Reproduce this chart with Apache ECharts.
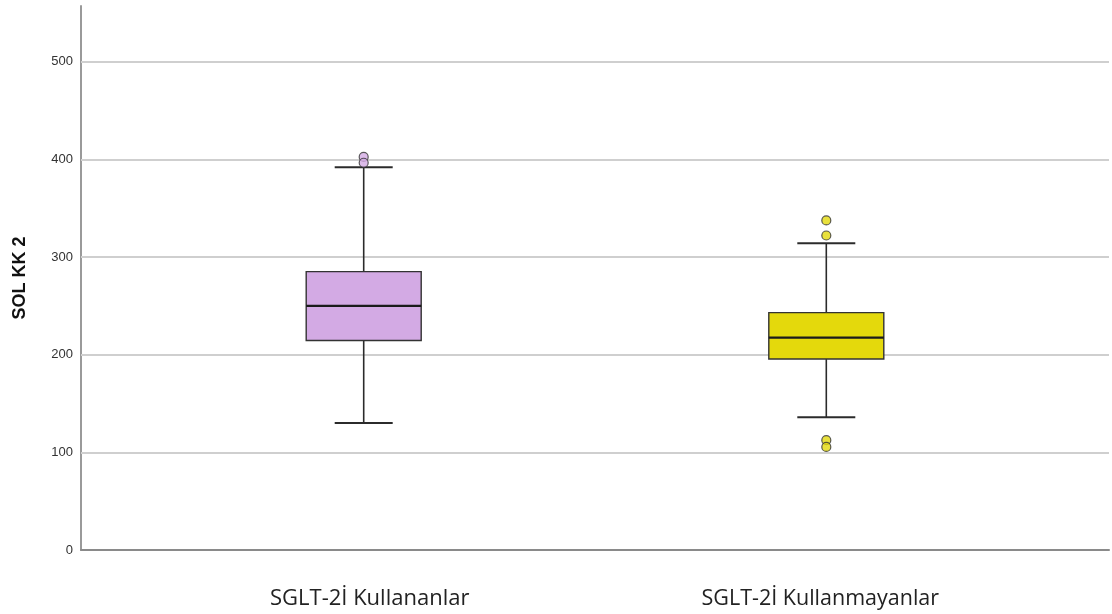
<!DOCTYPE html>
<html>
<head>
<meta charset="utf-8">
<script src="https://cdn.jsdelivr.net/npm/echarts@6/dist/echarts.min.js"></script>
<style>html,body{margin:0;padding:0;background:#fff;}#c{width:1112px;height:614px;}</style>
</head>
<body>
<div id="c"></div>
<script>
// Category slots along the x axis (the two groups sit at slots 5 and 14)
const slotCount = 20;
const groupSlots = [5, 14];
const groupNames = ['SGLT-2İ Kullananlar', 'SGLT-2İ Kullanmayanlar'];
// Box statistics: [min, Q1, median, Q3, max]
const boxKullananlar = [130, 214.5, 250, 285, 392];
const boxKullanmayanlar = [136, 195.5, 217.5, 243, 314];
// Outliers
const outKullananlar = [402.5, 396.5];
const outKullanmayanlar = [337.5, 322, 112.5, 105.5];
const groupColors = ['#D3AAE4', '#E4D90C'];
// Y ticks
const yTicks = [0, 100, 200, 300, 400, 500];
const yMax = 557;

const categories = [];
for (let i = 0; i < slotCount; i++) categories.push('');
groupSlots.forEach((s, i) => { categories[s] = groupNames[i]; });

const boxes = [boxKullananlar, boxKullanmayanlar];
const boxData = boxes.map((b, i) => ({ value: [groupSlots[i]].concat(b) }));
const outData = [];
[outKullananlar, outKullanmayanlar].forEach((arr, i) => {
  arr.forEach(v => outData.push({ value: [groupSlots[i], v], itemStyle: { color: groupColors[i] } }));
});

const chart = echarts.init(document.getElementById('c'), null, { renderer: 'canvas' });
const BOXW = 115, CAPW = 58;
chart.setOption({
  animation: false,
  grid: { left: 81, right: 3, top: 6, bottom: 64, containLabel: false },
  xAxis: {
    type: 'category',
    data: categories,
    axisLine: { lineStyle: { color: '#8a8a8a', width: 2 } },
    axisTick: { show: false },
    axisLabel: {
      interval: 0, margin: 38, fontFamily: 'Open Sans', fontSize: 22, color: '#222',
      formatter: function (v) {
        if (v === groupNames[0]) return '{a|' + v + '}';
        if (v === groupNames[1]) return '{b|' + v + '}';
        return v;
      },
      rich: {
        a: { fontFamily: 'Open Sans', fontSize: 22, color: '#222', padding: [0, 0, 0, 12] },
        b: { fontFamily: 'Open Sans', fontSize: 21.5, color: '#222', padding: [0, 12, 0, 0] }
      }
    },
    splitLine: { show: false }
  },
  yAxis: {
    type: 'value',
    min: 0, max: yMax, interval: 100,
    name: 'SOL KK 2',
    nameLocation: 'middle',
    nameGap: 52,
    nameTextStyle: { fontFamily: 'Liberation Sans', fontWeight: 'bold', fontSize: 18, color: '#111' },
    axisLine: { show: true, lineStyle: { color: '#9a9a9a', width: 2 } },
    axisTick: { show: false },
    axisLabel: { showMaxLabel: false, margin: 8, fontFamily: 'Liberation Sans', fontSize: 13, color: '#333' },
    splitLine: { show: false }
  },
  series: [
    {
      type: 'line', data: [], z: 1, silent: true,
      markLine: {
        z: 1,
        silent: true, symbol: 'none', label: { show: false },
        lineStyle: { color: '#cfcfcf', width: 2, type: 'solid' },
        data: yTicks.filter(v => v > 0).map(v => ({ yAxis: v }))
      }
    },
    {
      type: 'custom', z: 3,
      encode: { x: 0, y: [1, 2, 3, 4, 5] },
      data: boxData,
      renderItem: function (params, api) {
        const x = api.value(0);
        const pMin = api.coord([x, api.value(1)]);
        const pQ1 = api.coord([x, api.value(2)]);
        const pMed = api.coord([x, api.value(3)]);
        const pQ3 = api.coord([x, api.value(4)]);
        const pMax = api.coord([x, api.value(5)]);
        const cx = pMin[0];
        const fill = groupColors[params.dataIndex];
        const stroke = { stroke: '#2b2b2b', lineWidth: 1.6 };
        return {
          type: 'group',
          children: [
            { type: 'line', shape: { x1: cx, y1: pMax[1], x2: cx, y2: pQ3[1] }, style: stroke },
            { type: 'line', shape: { x1: cx, y1: pQ1[1], x2: cx, y2: pMin[1] }, style: stroke },
            { type: 'line', shape: { x1: cx - CAPW / 2, y1: pMax[1], x2: cx + CAPW / 2, y2: pMax[1] }, style: { stroke: '#2b2b2b', lineWidth: 2 } },
            { type: 'line', shape: { x1: cx - CAPW / 2, y1: pMin[1], x2: cx + CAPW / 2, y2: pMin[1] }, style: { stroke: '#2b2b2b', lineWidth: 2 } },
            { type: 'rect', shape: { x: cx - BOXW / 2, y: pQ3[1], width: BOXW, height: pQ1[1] - pQ3[1] }, style: { fill: fill, stroke: '#333', lineWidth: 1.4 } },
            { type: 'line', shape: { x1: cx - BOXW / 2, y1: pMed[1], x2: cx + BOXW / 2, y2: pMed[1] }, style: { stroke: '#1a1a1a', lineWidth: 2.2 } }
          ]
        };
      }
    },
    {
      type: 'scatter', z: 4,
      data: outData,
      symbol: 'circle', symbolSize: 9,
      itemStyle: { borderColor: '#333', borderWidth: 1.2 }
    }
  ]
});
</script>
</body>
</html>
